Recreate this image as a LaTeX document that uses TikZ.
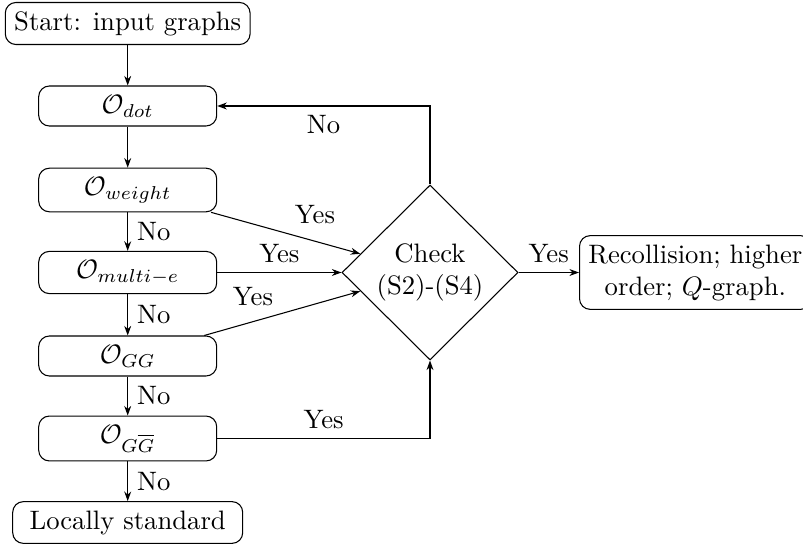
\documentclass[tikz,border=0pt]{standalone}
\usetikzlibrary{shapes.geometric,arrows.meta}
\begin{document}
\begin{tikzpicture}[x=0.375pt,y=-0.375pt,
  box/.style={draw, rounded corners=4pt, inner sep=3.33pt},
  opbox/.style={box, minimum width=66.75pt},
  decide/.style={draw, diamond, aspect=1, inner sep=0pt, minimum width=66pt, minimum height=65.6pt, align=center},
  arr/.style={-{Stealth[length=3.6pt,width=2.6pt]}, line width=0.4pt},
  lbl/.style={inner sep=3.33pt}]
\useasboundingbox (0,0) rectangle (803,545);
\node[box] (start) at (127.7,23.5) {Start: input graphs};
\node[opbox] (dot) at (127.7,106) {$\mathcal{O}_{dot}$};
\node[opbox] (weight) at (127.7,190) {$\mathcal{O}_{weight}$};
\node[opbox] (multi) at (127.7,272.5) {$\mathcal{O}_{multi-e}$};
\node[opbox] (gg) at (127.7,356) {$\mathcal{O}_{GG}$};
\node[opbox] (ggb) at (127.7,438.5) {$\mathcal{O}_{G\overline{G}}$};
\node[box, minimum width=86.25pt] (local) at (127.7,522.5) {Locally standard};
\node[decide] (check) at (430,272.5) {Check\\(S2)-(S4)};
\node[box, align=center, anchor=west] (rec) at (579,272.5) {Recollision; higher\\order; $Q$-graph.};

\draw[arr] (start) -- (dot);
\draw[arr] (dot) -- (weight);
\draw[arr] (weight) -- node[lbl, right] {No} (multi);
\draw[arr] (multi) -- node[lbl, right] {No} (gg);
\draw[arr] (gg) -- node[lbl, right] {No} (ggb);
\draw[arr] (ggb) -- node[lbl, right] {No} (local);

\draw[arr] (check.north) |- node[lbl, pos=0.75, below] {No} (dot.east);
\draw[arr] (ggb.east) -| node[lbl, pos=0.25, above] {Yes} (check.south);
\draw[arr] (multi.east) -- node[lbl, above] {Yes} (check.west);
\draw[arr] (weight.-15) -- (check.165);
\draw[arr] (gg.15) -- (check.195);
\draw[arr] (check.east) -- node[lbl, above] {Yes} (rec.west);
\node[lbl] (yesw) at (315,215) {Yes};
\node[lbl] (yesg) at (253,297) {Yes};
\end{tikzpicture}
\end{document}
